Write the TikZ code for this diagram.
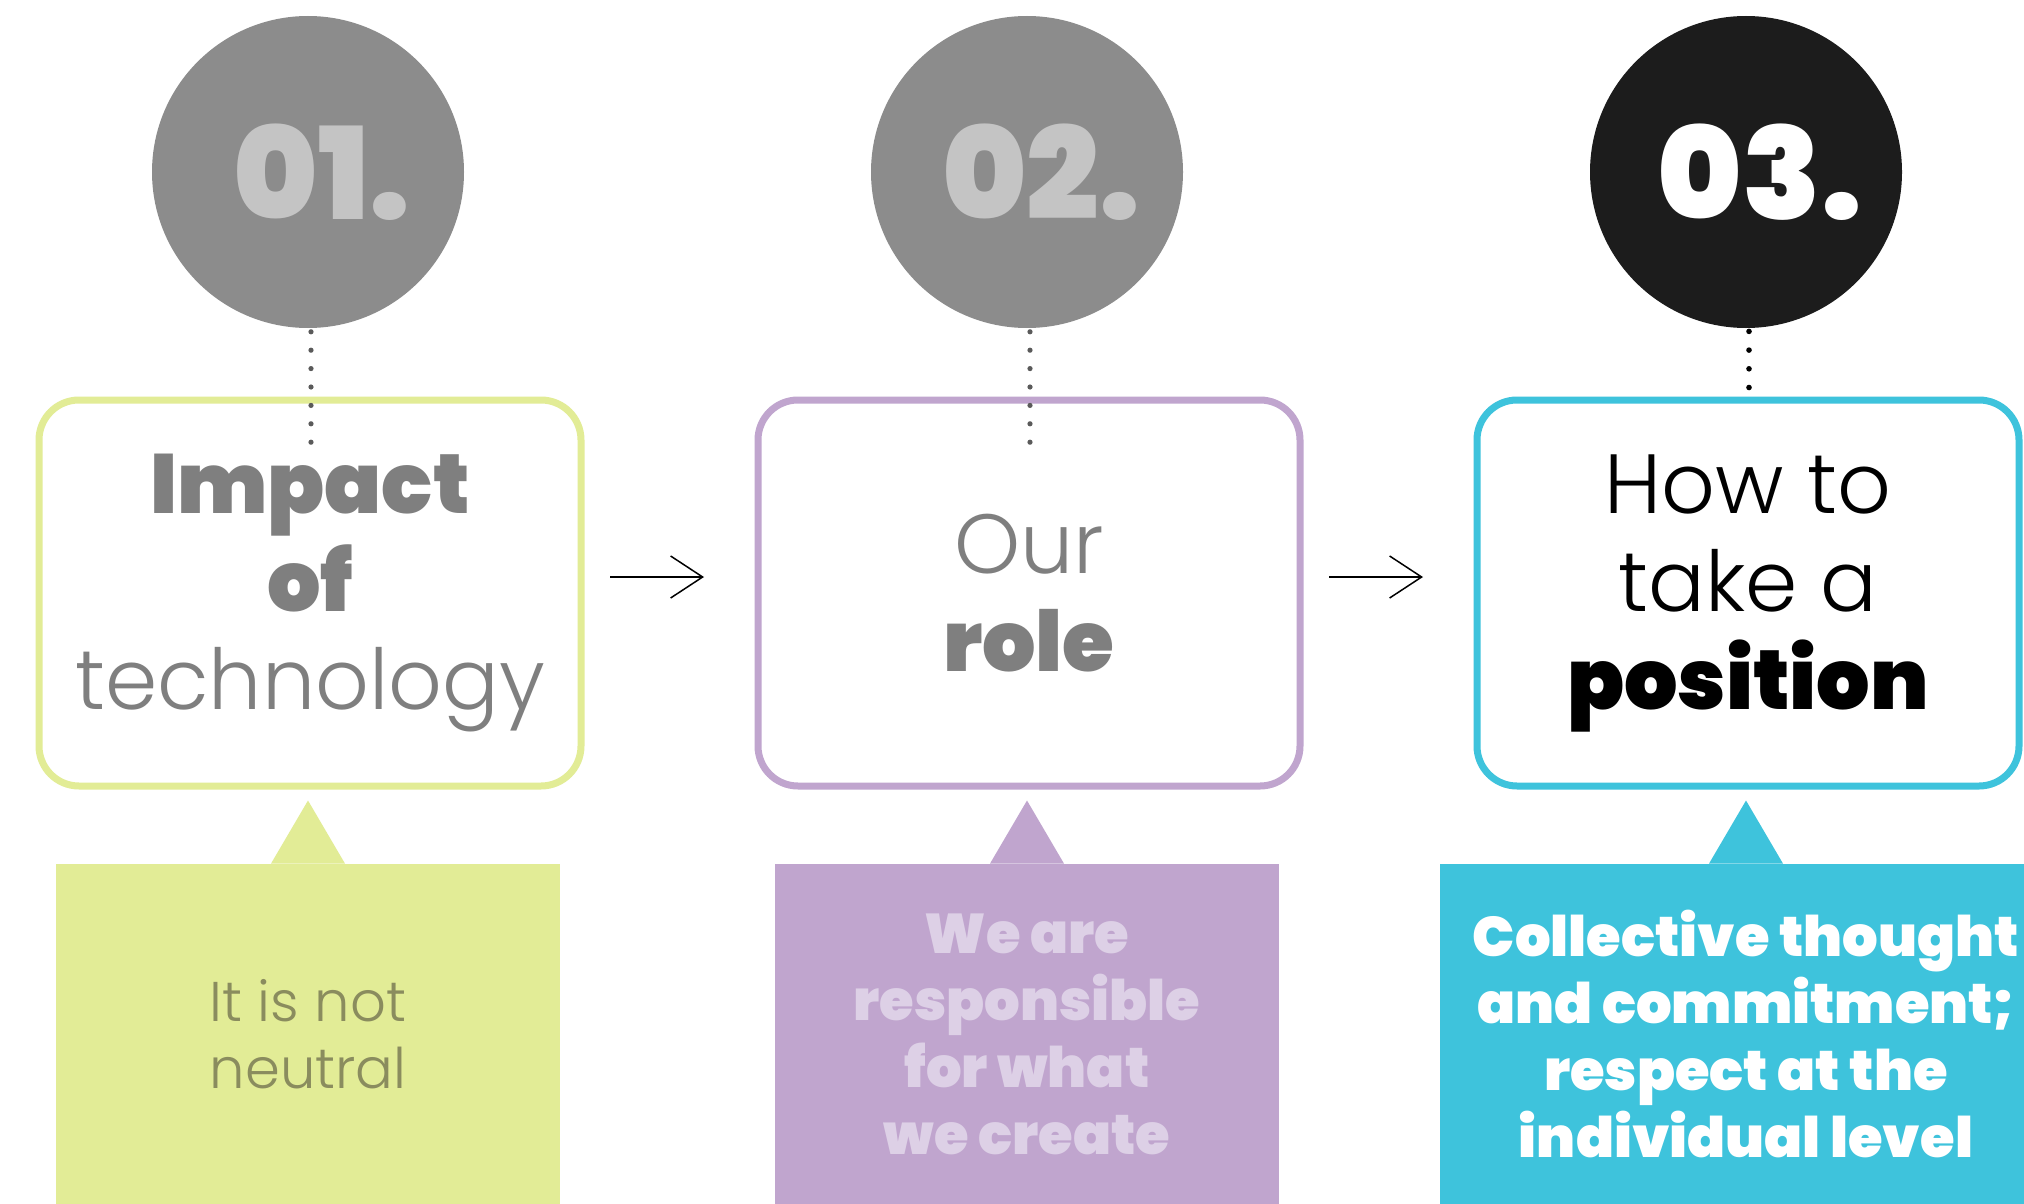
\documentclass[tikz,border=0pt]{standalone}
\usepackage{fontspec}
\usetikzlibrary{arrows.meta,positioning,calc}
\newfontfamily\blackfont{Poppins Black}
\newfontfamily\lightfont{Poppins Light}
\definecolor{limefill}{HTML}{E2EC96}
\definecolor{lilacfill}{HTML}{C0A5CE}
\definecolor{cyanfill}{HTML}{3EC3DC}
\definecolor{circgrey}{HTML}{8C8C8C}
\definecolor{numgrey}{HTML}{C4C4C4}
\definecolor{circblack}{HTML}{1C1C1C}
\definecolor{textgrey}{HTML}{7F7F7F}
\definecolor{olivetext}{HTML}{8A8C5E}
\definecolor{lilactext}{HTML}{DDD0E6}
\definecolor{dotgrey}{HTML}{5A5A5A}
\tikzset{numcircle/.style={circle, minimum size=156pt, inner sep=0pt,
           font=\blackfont\fontsize{64}{64}\selectfont},
         stepbox/.style={draw, rounded corners=20pt, line width=3.5pt, fill=white,
           minimum width=271pt, minimum height=193pt, inner sep=0pt, align=center,
           font=\fontsize{42}{49}\selectfont},
         calloutbox/.style={minimum width=252pt, minimum height=170pt, inner sep=0pt,
           align=center, font=#1\fontsize{28}{33.5}\selectfont},
         flowarrow/.style={line width=0.75pt, -{Straight Barb[length=16pt,width=21pt]}}}
\begin{document}
\begin{tikzpicture}[x=0.5pt,y=-0.5pt]
  \useasboundingbox[fill=white] (0,0) rectangle (2024,1204);
  % numbers
  \node[numcircle, fill=circgrey, text=numgrey] (c1) at (308,172) {\kern14pt01.};
  \node[numcircle, fill=circgrey, text=numgrey] (c2) at (1027,172) {\kern14pt02.};
  \node[numcircle, fill=circblack, text=white] (c3) at (1746,172) {\kern14pt03.};
  % steps
  \node[stepbox, draw=limefill, text=textgrey] (b1) at (310,593)
    {{\blackfont Impact}\\{\blackfont of}\\{\lightfont technology}};
  \node[stepbox, draw=lilacfill, text=textgrey] (b2) at (1029,593)
    {{\lightfont Our}\\{\blackfont role}};
  \node[stepbox, draw=cyanfill, text=black] (b3) at (1748,593)
    {{\lightfont How to}\\{\lightfont take a}\\{\blackfont position}};
  % callouts
  \node[calloutbox=\lightfont, fill=limefill, text=olivetext] (n1) at (308,1034)
    {It is not\\neutral};
  \node[calloutbox=\blackfont, fill=lilacfill, text=lilactext] (n2) at (1027,1034)
    {We are\\responsible\\for what\\we create};
  \node[calloutbox=\blackfont, fill=cyanfill, text=white, minimum width=306pt] (n3) at (1746,1034)
    {Collective thought\\and commitment;\\respect at the\\individual level};
  \foreach \n/\b/\col in {n1/b1/limefill, n2/b2/lilacfill, n3/b3/cyanfill}
    \fill[\col] ($(\n.north)+(-37,0)$) -- ($(\n.north |- \b.south)+(0,11)$)
      -- ($(\n.north)+(37,0)$) -- cycle;
  % arrows
  \draw[flowarrow] ([xshift=12.75pt,yshift=8pt]b1.east) -- ([xshift=-25.25pt,yshift=8pt]b2.west);
  \draw[flowarrow] ([xshift=12.75pt,yshift=8pt]b2.east) -- ([xshift=-25.25pt,yshift=8pt]b3.west);
  % dots
  \foreach \c in {c1,c2}
    \foreach \k [evaluate=\k as \op using 0.95-0.09*\k] in {0,...,7}
      \fill[dotgrey, opacity=\op] ($(\c.south)+(3,-15+18.4*\k)$) circle (2.6);
  \foreach \k in {0,...,3}
    \fill[black] ($(c3.south)+(3,3+18.7*\k)$) circle (2.8);
\end{tikzpicture}
\end{document}
